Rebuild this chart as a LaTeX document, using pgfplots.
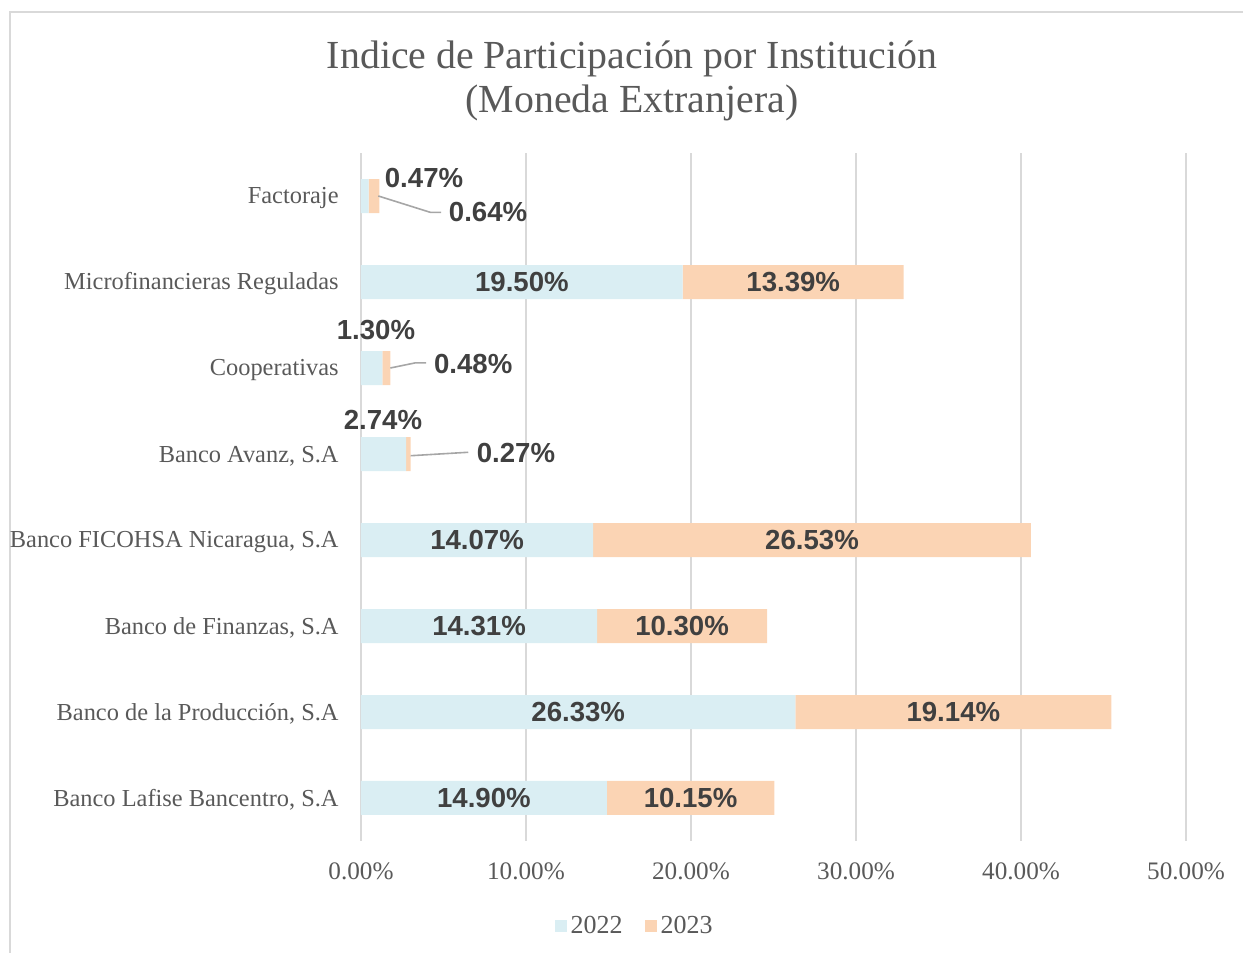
\documentclass[border=0pt]{standalone}
\usepackage{pgfplots}
\pgfplotsset{compat=1.18}
\usepackage{fontspec}
\setmainfont{Liberation Serif}
\newfontfamily\sansfam{Liberation Sans}
\definecolor{barA}{HTML}{DAEEF3}
\definecolor{barB}{HTML}{FBD4B4}
\definecolor{greytext}{HTML}{595959}
\definecolor{darktext}{HTML}{404040}
\definecolor{gridgrey}{HTML}{D9D9D9}
\definecolor{leadgrey}{HTML}{A6A6A6}

\begin{document}
\begin{tikzpicture}
\path[use as bounding box] (-180.5pt,-56pt) rectangle (441pt,420.5pt);
\draw[gridgrey, line width=0.8pt] (-175.5pt,-60pt) -- (-175.5pt,414.5pt) -- (445pt,414.5pt);
\begin{axis}[
  at={(0,0)}, anchor=south west,
  scale only axis, width=412.5pt, height=344pt,
  xbar stacked, bar width=17pt,
  xmin=0, xmax=50, ymin=-0.5, ymax=7.5,
  axis x line*=bottom, axis y line*=left,
  x axis line style={draw=none}, y axis line style={draw=none},
  xtick={0,10,...,50},
  xticklabels={0.00\%,10.00\%,20.00\%,30.00\%,40.00\%,50.00\%},
  ytick={0,...,7},
  yticklabels={{Banco Lafise Bancentro, S.A}, {Banco de la Producción, S.A},
    {Banco de Finanzas, S.A}, {Banco FICOHSA Nicaragua, S.A}, {Banco Avanz, S.A},
    Cooperativas, Microfinancieras Reguladas, Factoraje},
  major tick length=0pt,
  xmajorgrids, grid style={gridgrey, line width=0.9pt},
  xticklabel style={font=\fontsize{12.6}{14}\selectfont, text=greytext, anchor=center, inner sep=0pt, yshift=-15pt},
  yticklabel style={font=\fontsize{12.2}{14}\selectfont, text=greytext, anchor=east, inner sep=0pt, xshift=-11pt, yshift=-1pt},
  clip=false,
  legend columns=2,
  legend image code/.code={\fill[#1] (0pt,-3pt) rectangle (6pt,3pt);},
  legend style={draw=none, at={(0.333,-0.124)}, anchor=center,
    font=\fontsize{13}{15}\selectfont, text=greytext,
    /tikz/every even column/.append style={column sep=9pt}},
]
\addplot[fill=barA, draw=none] coordinates {
  (14.90,0) (26.33,1) (14.31,2) (14.07,3) (2.74,4) (1.30,5) (19.50,6) (0.47,7)};
\addlegendentry{2022}
\addplot[fill=barB, draw=none] coordinates {
  (10.15,0) (19.14,1) (10.30,2) (26.53,3) (0.27,4) (0.48,5) (13.39,6) (0.64,7)};
\addlegendentry{2023}
\end{axis}
\begin{scope}[x=8.25pt, y=43pt, yshift=21.5pt,
  every node/.style={font=\sansfam\bfseries\fontsize{13.8}{15}\selectfont, text=darktext}]
\node at (9.75,6) {19.50\%};
\node at (26.195,6) {13.39\%};
\node at (7.035,3) {14.07\%};
\node at (27.335,3) {26.53\%};
\node at (7.155,2) {14.31\%};
\node at (19.46,2) {10.30\%};
\node at (13.165,1) {26.33\%};
\node at (35.9,1) {19.14\%};
\node at (7.45,0) {14.90\%};
\node at (19.975,0) {10.15\%};
\node at (3.82,7.21) {0.47\%};
\node at (7.7,6.81) {0.64\%};
\node at (0.91,5.44) {1.30\%};
\node at (6.8,5.05) {0.48\%};
\node at (1.33,4.40) {2.74\%};
\node at (9.39,4.01) {0.27\%};
\draw[leadgrey, line width=0.8pt] (1.05,7) -- (4.2,6.81) -- (4.85,6.81);
\draw[leadgrey, line width=0.8pt] (1.78,5) -- (3.3,5.06) -- (3.95,5.06);
\draw[leadgrey, line width=0.8pt] (3.01,3.98) -- (6.5,4.02);
\end{scope}
\node[font=\fontsize{19.9}{22}\selectfont, text=greytext, align=center] at (135.5pt,380pt)
  {Indice de Participación por Institución\\[0pt](Moneda Extranjera)};
\end{tikzpicture}
\end{document}
